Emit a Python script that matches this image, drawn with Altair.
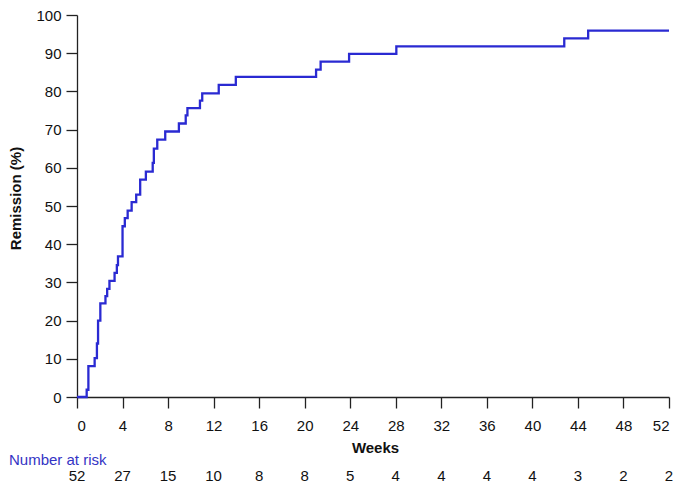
import altair as alt
import pandas as pd

# Kaplan-Meier style cumulative remission curve (step function)
weeks = [0, 0.85, 1.0, 1.55, 1.75, 1.85, 2.05, 2.5, 2.65, 2.85, 3.3, 3.5, 3.6,
         4.0, 4.2, 4.45, 4.8, 5.2, 5.55, 6.05, 6.65, 6.75, 7.05, 7.75, 8.95,
         9.55, 9.7, 10.8, 11.0, 12.45, 13.95, 21.0, 21.4, 23.9, 28.05, 42.8,
         44.9, 52.0]
remission = [0, 1.9, 8.1, 10.2, 14.0, 20.0, 24.5, 26.4, 28.3, 30.4, 32.5, 34.5,
             36.8, 44.7, 46.8, 48.8, 51.0, 53.0, 56.9, 59.0, 61.3, 65.0, 67.4,
             69.5, 71.6, 73.7, 75.6, 77.6, 79.5, 81.7, 83.8, 85.7, 87.8, 89.8,
             91.8, 93.9, 95.9, 95.9]

risk_weeks = [0, 4, 8, 12, 16, 20, 24, 28, 32, 36, 40, 44, 48, 52]
risk_counts = [52, 27, 15, 10, 8, 8, 5, 4, 4, 4, 4, 3, 2, 2]
y_ticks = [0, 10, 20, 30, 40, 50, 60, 70, 80, 90, 100]

FONT = "Liberation Sans"
W, H = 592, 382
BLUE = "#2a2ad2"

curve = pd.DataFrame({"Weeks": weeks, "Remission": remission})
risk = pd.DataFrame({"Weeks": risk_weeks, "n": risk_counts})
risk_label = pd.DataFrame({"t": ["Number at risk"]})

x_scale = alt.Scale(domain=[0, 52], nice=False, zero=False)
y_scale = alt.Scale(domain=[0, 100], nice=False)
x_axis = alt.Axis(values=risk_weeks, title="Weeks", tickSize=11,
                  labelPadding=10, titleX=W / 2 + 2, titleY=50,
                  titleBaseline="middle", titleAlign="center")

line = alt.Chart(curve).mark_line(
    interpolate="step-after", color=BLUE, strokeWidth=2.3, clip=False
).encode(
    x=alt.X("Weeks:Q", scale=x_scale, axis=x_axis),
    y=alt.Y("Remission:Q", scale=y_scale,
            axis=alt.Axis(values=y_ticks, title="Remission (%)", tickSize=11,
                          labelPadding=5, titleX=-62, titleY=183,
                          titleBaseline="middle", titleAlign="center")),
)

numbers = alt.Chart(risk).mark_text(
    fontSize=15, font=FONT, baseline="middle", align="center", color="#111111"
).encode(
    x=alt.X("Weeks:Q", scale=x_scale, axis=x_axis),
    y=alt.value(H + 79),
    text="n:Q",
)

label = alt.Chart(risk_label).mark_text(
    fontSize=15, font=FONT, baseline="middle", align="left", color="#3434c4"
).encode(
    x=alt.value(-68),
    y=alt.value(H + 63),
    text="t:N",
)

chart = alt.layer(line, numbers, label).properties(
    width=W, height=H,
    padding={"left": 69, "top": 7, "right": 8, "bottom": 88},
    autosize=alt.AutoSizeParams(type="none"),
    background="white",
).configure_view(stroke=None).configure_axis(
    grid=False,
    domainColor="#222222", tickColor="#222222", domainWidth=1.3, tickWidth=1.3,
    labelFont=FONT, labelFontSize=15, labelColor="#111111",
    titleFont=FONT, titleFontSize=15, titleFontWeight="bold", titleColor="#111111",
)

chart.save("out.html", embed_options={"renderer": "svg", "actions": False})
